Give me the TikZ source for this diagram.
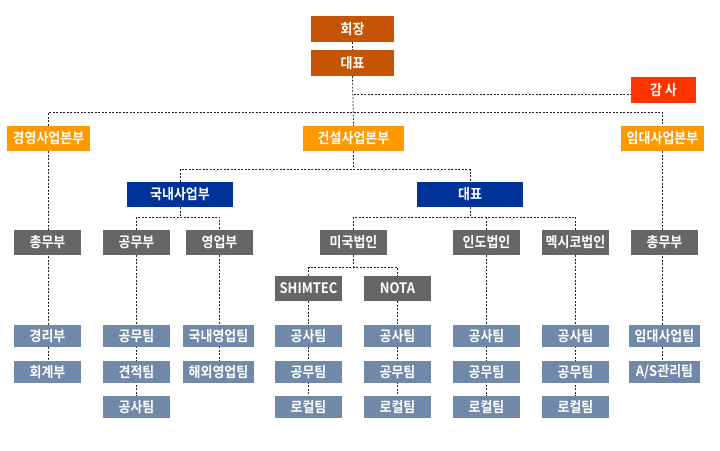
\documentclass[tikz,border=0pt]{standalone}
\usepackage{fontspec}
\newfontfamily\kr{Noto Sans CJK KR}[FakeStretch=0.9, BoldFont={Noto Sans CJK KR Bold}]
\usetikzlibrary{backgrounds}
\definecolor{cBrown}{HTML}{C55504}
\definecolor{cRed}{HTML}{FF3300}
\definecolor{cOrange}{HTML}{FF9900}
\definecolor{cBlue}{HTML}{003399}
\definecolor{cGray}{HTML}{666666}
\definecolor{cTeam}{HTML}{7189A8}
\definecolor{cLine}{HTML}{222222}
\begin{document}
\begin{tikzpicture}[x=1pt,y=-1pt,
  box/.style={inner sep=0pt, text=white, font=\kr\bfseries\fontsize{14.4}{16}\selectfont, minimum height=25pt, minimum width=67pt},
  top/.style={box, fill=cBrown, minimum width=83pt, minimum height=26pt},
  audit/.style={box, fill=cRed, minimum width=65pt, minimum height=26pt},
  hq/.style={box, fill=cOrange, minimum width=83pt},
  div/.style={box, fill=cBlue, minimum width=106pt},
  dept/.style={box, fill=cGray},
  team/.style={box, fill=cTeam, minimum height=22pt},
  link/.style={draw=cLine, line width=0.75pt, dash pattern=on 2pt off 1.5pt}]
\useasboundingbox (0,0) rectangle (720,450);
% top
\node[top] (chair) at (352.5,29) {회장};
\node[top] (ceo) at (352.5,63) {대표};
\node[audit] (audit) at (663.5,90) {감 사};
% headquarters
\node[hq] (hqA) at (48.5,138.5) {경영사업본부};
\node[hq, minimum width=101pt] (hqB) at (353.5,138.5) {건설사업본부};
\node[hq] (hqC) at (662.5,138.5) {임대사업본부};
% divisions
\node[div] (dom) at (180,194.5) {국내사업부};
\node[div] (rep) at (470,194.5) {대표};
% departments
\node[dept] (gaL) at (47.5,242.5) {총무부};
\node[dept] (eng) at (136.5,242.5) {공무부};
\node[dept] (sales) at (219.5,242.5) {영업부};
\node[dept] (us) at (353.5,242.5) {미국법인};
\node[dept] (india) at (486.5,242.5) {인도법인};
\node[dept] (mex) at (575.5,242.5) {멕시코법인};
\node[dept] (gaR) at (664.5,242.5) {총무부};
\node[dept] (shim) at (308.5,288.5) {SHIMTEC};
\node[dept] (nota) at (397.5,288.5) {NOTA};
% teams
\node[team] (a1) at (47.5,336) {경리부};
\node[team] (a2) at (47.5,371.7) {회계부};
\node[team] (b1) at (136.5,336) {공무팀};
\node[team] (b2) at (136.5,371.7) {견적팀};
\node[team] (b3) at (136.5,407) {공사팀};
\node[team, minimum width=71pt] (c1) at (218.5,336) {국내영업팀};
\node[team, minimum width=71pt] (c2) at (218.5,371.7) {해외영업팀};
\node[team] (d1) at (308.5,336) {공사팀};
\node[team] (d2) at (308.5,371.7) {공무팀};
\node[team] (d3) at (308.5,407) {로컬팀};
\node[team] (e1) at (397.5,336) {공사팀};
\node[team] (e2) at (397.5,371.7) {공무팀};
\node[team] (e3) at (397.5,407) {로컬팀};
\node[team] (f1) at (486.5,336) {공사팀};
\node[team] (f2) at (486.5,371.7) {공무팀};
\node[team] (f3) at (486.5,407) {로컬팀};
\node[team] (g1) at (575.5,336) {공사팀};
\node[team] (g2) at (575.5,371.7) {공무팀};
\node[team] (g3) at (575.5,407) {로컬팀};
\node[team, minimum width=71pt] (h1) at (664.5,336) {임대사업팀};
\node[team, minimum width=71pt] (h2) at (664.5,371.7) {A/S관리팀};
\begin{pgfonlayer}{background}
\fill[white] (0,0) rectangle (720,450);
\coordinate (auditJ) at (353.5,94.5);
\coordinate (busA) at (353.5,112.5);
\coordinate (busB) at (353.5,169.5);
\coordinate (busC) at (180,217.3);
\coordinate (busD) at (470,217.3);
\coordinate (busE) at (353.5,267.5);
\draw[link] (chair.south) -- (ceo.north);
\draw[link] (ceo.south) -- (hqB.north);
\draw[link] (auditJ) -- (audit.west |- auditJ);
\draw[link] (hqA.north) -- (hqA.north |- busA) -- (hqC.north |- busA) -- (hqC.north);
\draw[link] (hqA.south) -- (hqA.south |- a2.north);
\draw[link] (hqC.south) -- (hqC.south |- h2.north);
\draw[link] (hqB.south) -- (busB);
\draw[link] (dom.north) -- (dom.north |- busB) -- (rep.north |- busB) -- (rep.north);
\draw[link] (dom.south) -- (busC);
\draw[link] (eng.north) -- (eng.north |- busC) -- (sales.north |- busC) -- (sales.north);
\draw[link] (rep.south) -- (busD);
\draw[link] (us.north) -- (us.north |- busD) -- (mex.north |- busD) -- (mex.north);
\draw[link] (india.north) -- (india.north |- busD);
\draw[link] (eng.south) -- (b3.north);
\draw[link] (sales.south) -- (sales.south |- c2.north);
\draw[link] (us.south) -- (busE);
\draw[link] (shim.north) -- (shim.north |- busE) -- (nota.north |- busE) -- (nota.north);
\draw[link] (shim.south) -- (d3.north);
\draw[link] (nota.south) -- (e3.north);
\draw[link] (india.south) -- (f3.north);
\draw[link] (mex.south) -- (g3.north);
\end{pgfonlayer}
\end{tikzpicture}
\end{document}
